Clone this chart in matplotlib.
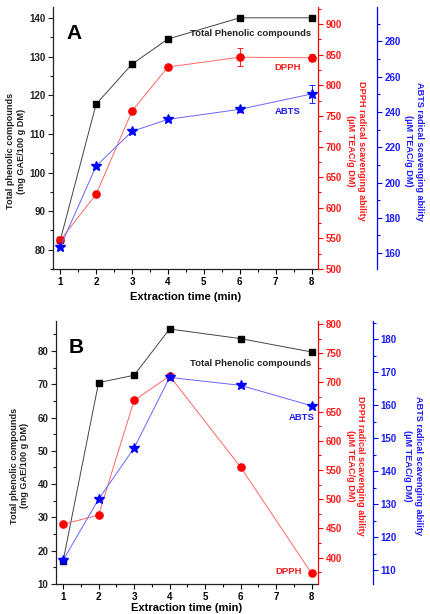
import matplotlib
matplotlib.use("Agg")
import matplotlib.pyplot as plt
from matplotlib.ticker import MultipleLocator

plt.rcParams['font.family'] = ['Liberation Sans', 'DejaVu Sans']
plt.rcParams['font.weight'] = 'bold'

# ---------------- data ----------------
time_min = [1, 2, 3, 4, 6, 8]

# Panel A
tpc_A = [82.4, 117.7, 128.1, 134.6, 140.1, 140.1]
dpph_A = [547, 622, 758, 830, 846, 845]
dpph_A_err = [2, 2, 3, 3, 15, 6]
abts_A = [163.4, 209.3, 229.0, 235.8, 241.5, 250.2]
abts_A_err = [1, 1, 1, 1, 1.5, 5.2]

# Panel B
tpc_B = [16.9, 70.5, 72.7, 86.6, 83.7, 79.7]
dpph_B = [457, 473, 669, 711, 555, 373]
abts_B = [113.0, 131.5, 147.0, 168.4, 166.0, 159.8]

x_ticks = [1, 2, 3, 4, 5, 6, 7, 8]

RED = '#ff0000'
BLUE = '#0000ff'
TXT_RED = '#ff1a1a'
TXT_BLUE = '#1a1aff'

W, H = 431, 614
fig = plt.figure(figsize=(W / 100, H / 100), dpi=100)


def box(l, t, r, b):
    return [l / W, 1 - b / H, (r - l) / W, (b - t) / H]


def style_axis(ax, color, major, minor, fs=7):
    ax.yaxis.set_major_locator(MultipleLocator(major))
    ax.yaxis.set_minor_locator(MultipleLocator(minor))
    ax.tick_params(axis='y', which='major', direction='out', length=3.5, width=0.8,
                   colors=color, labelsize=fs, pad=2)
    ax.tick_params(axis='y', which='minor', direction='out', length=2, width=0.8,
                   colors=color)


def make_panel(rect, letter, tpc, dpph, abts, ylim_l, ylim_r, ylim_b,
               maj_l, maj_r, maj_b, blue_pos, texts, xlab_y,
               dpph_err=None, abts_err=None):
    ax = fig.add_axes(rect)
    ax.set_xlim(0.8, 8.18)
    ax.set_ylim(*ylim_l)
    for s in ['top', 'right']:
        ax.spines[s].set_visible(False)
    for s in ['left', 'bottom']:
        ax.spines[s].set_linewidth(0.9)
        ax.spines[s].set_color('#222222')
    ax.set_xticks(x_ticks)
    ax.xaxis.set_minor_locator(MultipleLocator(0.5))
    ax.tick_params(axis='x', which='major', direction='out', length=3.5, width=0.8,
                   labelsize=7, pad=2)
    ax.tick_params(axis='x', which='minor', direction='out', length=2, width=0.8)
    style_axis(ax, '#222222', maj_l, maj_l / 2)
    ax.plot(time_min, tpc, color='#444444', lw=0.7, marker='s', ms=4.5,
            mfc='black', mec='black', zorder=3)

    axr = ax.twinx()
    axr.set_ylim(*ylim_r)
    for s in ['top', 'left', 'bottom']:
        axr.spines[s].set_visible(False)
    axr.spines['right'].set_color(RED)
    axr.spines['right'].set_linewidth(0.9)
    style_axis(axr, RED, maj_r, maj_r / 2)
    for lab in axr.get_yticklabels():
        lab.set_color(TXT_RED)
    axr.errorbar(time_min, dpph, yerr=dpph_err, color='#ff6666', lw=0.7,
                 marker='o', ms=5.2, mfc=RED, mec=RED, ecolor=RED,
                 elinewidth=0.6, capsize=2, capthick=0.6, zorder=3)

    axb = ax.twinx()
    axb.set_ylim(*ylim_b)
    for s in ['top', 'left', 'bottom']:
        axb.spines[s].set_visible(False)
    axb.spines['right'].set_position(('axes', blue_pos))
    axb.spines['right'].set_color(BLUE)
    axb.spines['right'].set_linewidth(0.9)
    style_axis(axb, BLUE, maj_b, maj_b / 2)
    for lab in axb.get_yticklabels():
        lab.set_color(TXT_BLUE)
    axb.errorbar(time_min, abts, yerr=abts_err, color='#6666ff', lw=0.7,
                 marker='*', ms=7, mfc=BLUE, mec=BLUE, ecolor=BLUE,
                 elinewidth=0.6, capsize=2, capthick=0.6, zorder=3)

    ax.text(0.05, 0.90, letter, transform=ax.transAxes, fontsize=15,
            fontweight='bold', ha='left', va='center')
    ax.text(0.5, xlab_y, 'Extraction time (min)', transform=ax.transAxes,
            fontsize=8, fontweight='bold', ha='center', va='center')
    ax.text(-0.14, 0.45, 'Total phenolic compounds\n(mg GAE/100 g DM)',
            transform=ax.transAxes, fontsize=6.6, fontweight='bold',
            rotation=90, ha='center', va='center', multialignment='center',
            color='#222222')
    ax.text(1.143, 0.45, 'DPPH radical scavenging ability\n(µM TEAC/g DM)',
            transform=ax.transAxes, fontsize=6.6, fontweight='bold',
            rotation=270, ha='center', va='center', multialignment='center',
            color=TXT_RED)
    ax.text(1.362, 0.45, 'ABTS radical scavenging ability\n(µM TEAC/g DM)',
            transform=ax.transAxes, fontsize=6.6, fontweight='bold',
            rotation=270, ha='center', va='center', multialignment='center',
            color=TXT_BLUE)
    for (s, xf, yf, c, ha) in texts:
        ax.text(xf, yf, s, transform=ax.transAxes, fontsize=6.8,
                fontweight='bold', color=c, ha=ha, va='center')
    return ax


make_panel(box(53, 7, 318, 269), 'A', tpc_A, dpph_A, abts_A,
           (75, 142.9), (500, 928), (151, 299.5), 10, 50, 20, 1.223,
           [('Total Phenolic compounds', (190 - 53) / 265, (269 - 34) / 262, '#222222', 'left'),
            ('DPPH', (288 - 53) / 265, (269 - 68) / 262, TXT_RED, 'center'),
            ('ABTS', (288 - 53) / 265, (269 - 112) / 262, TXT_BLUE, 'center')],
           -0.105, dpph_err=dpph_A_err, abts_err=abts_A_err)

make_panel(box(56, 321, 318, 584), 'B', tpc_B, dpph_B, abts_B,
           (10, 89), (355, 805), (105.8, 185.5), 10, 50, 10, 1.21,
           [('Total Phenolic compounds', (190 - 56) / 262, (584 - 363) / 263, '#222222', 'left'),
            ('ABTS', (302 - 56) / 262, (584 - 418) / 263, TXT_BLUE, 'center'),
            ('DPPH', (289 - 56) / 262, (584 - 571) / 263, TXT_RED, 'center')],
           -0.091)

fig.savefig('out.png', dpi=100)
